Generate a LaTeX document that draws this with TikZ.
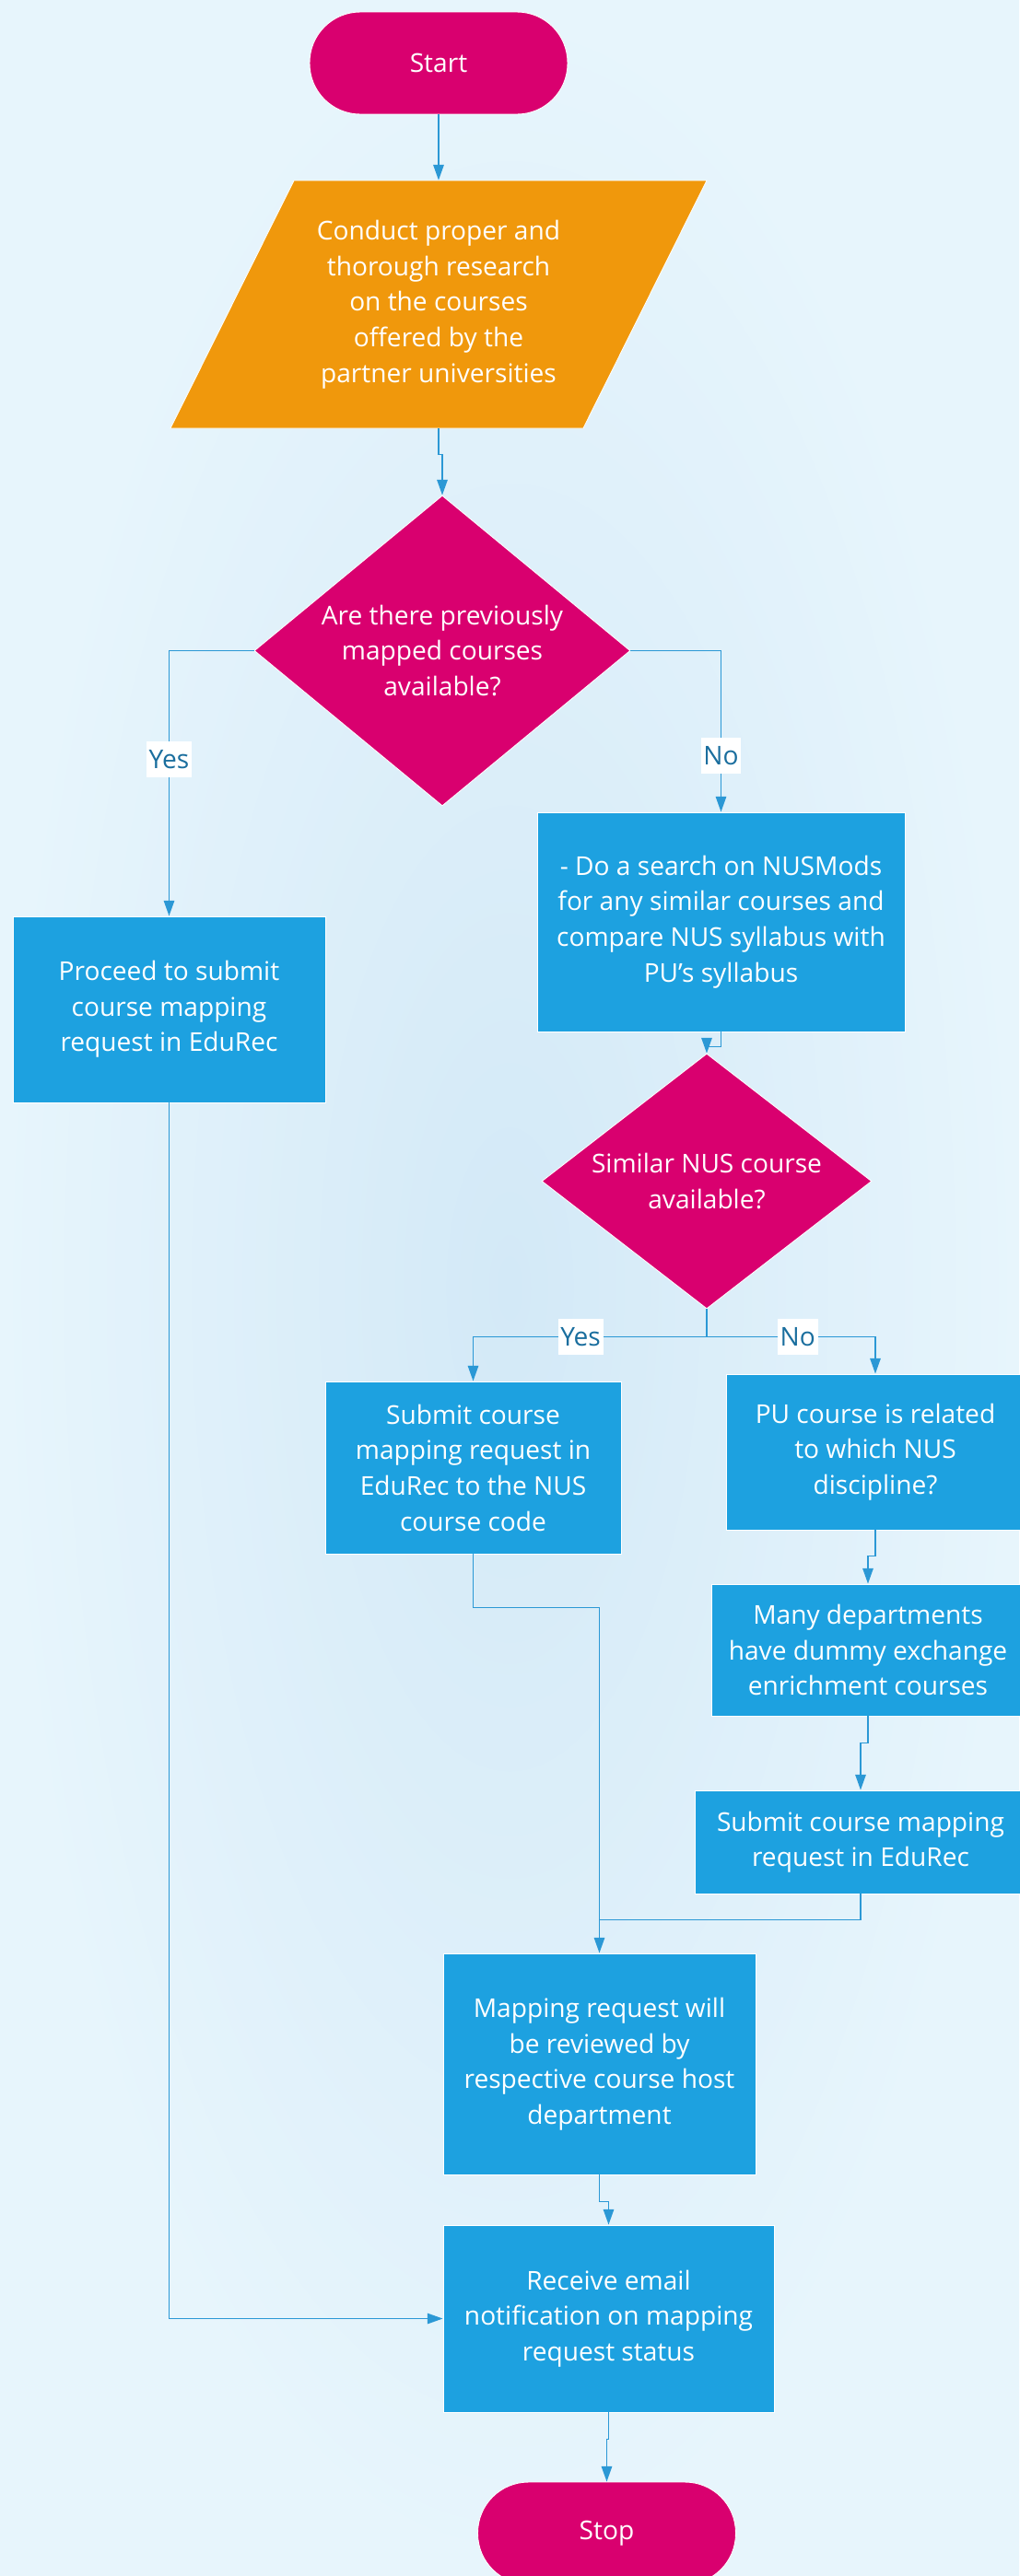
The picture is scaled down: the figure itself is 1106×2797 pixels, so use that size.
\documentclass[tikz,border=0pt]{standalone}
\usepackage{fontspec}
\setmainfont{Open Sans}
\usepackage{tikz}
\usetikzlibrary{
  arrows.meta,
  calc,
  shapes.geometric
}
\definecolor{flowpink}{RGB}{217,0,111}
\definecolor{floworange}{RGB}{240,152,12}
\definecolor{flowblue}{RGB}{29,161,224}
\definecolor{linkblue}{RGB}{43,152,213}
\definecolor{answerblue}{RGB}{26,110,158}
\definecolor{bginner}{RGB}{211,233,247}
\definecolor{bgouter}{RGB}{231,245,252}
\tikzset{
  base/.style={draw=white, line width=0.5pt, text=white, align=center, inner sep=0pt,
    font=\fontsize{16}{22}\selectfont},
  terminal/.style={base, fill=flowpink, rounded corners=1.1cm, minimum width=5.6cm, minimum height=2.22cm},
  process/.style 2 args={base, fill=flowblue, minimum width=#1*0.02cm, minimum height=#2*0.02cm},
  decision/.style 2 args={base, diamond, fill=flowpink, minimum width=#1*0.02cm, minimum height=#2*0.02cm},
  dtext/.style={text=white, align=center, inner sep=0pt, font=\fontsize{16}{22}\selectfont},
  link/.style={draw=linkblue, line width=0.9pt, -{Triangle[length=9.5pt,width=6.5pt]}},
  line/.style={draw=linkblue, line width=0.9pt},
  answer/.style={fill=white, text=answerblue, inner xsep=1.5pt, inner ysep=0pt, minimum height=22pt,
    font=\fontsize{16}{22}\selectfont}
}

\begin{document}
\begin{tikzpicture}[x=0.02cm, y=-0.02cm]
  % page and background
  \useasboundingbox (0,0) rectangle (1106,2797);
  \shade[inner color=bginner, outer color=bgouter] (0,0) rectangle (1106,2797);
  % research step (parallelogram)
  \fill[floworange, draw=white, line width=0.5pt] (319,196) -- (767,196) -- (633,465) -- (185,465) -- cycle;

  \node[terminal] (start) at (476,68.5) {Start};
  \node[dtext, minimum width=314*0.02cm, minimum height=269*0.02cm] (research) at (476,330.5)
    {Conduct proper and\\thorough research\\on the courses\\offered by the\\partner universities};
  \node[decision={408}{337}, label={[dtext]center:{Are there previously\\mapped courses\\available?}}] (dia1) at (480,706.5) {};
  \node[process={339}{202}] (proceed) at (183.5,1096) {Proceed to submit\\course mapping\\request in EduRec};
  \node[process={399}{238}] (nusmods) at (782.5,1001)
    {- Do a search on NUSMods\\for any similar courses and\\compare NUS syllabus with\\PU’s syllabus};
  \node[decision={358}{277}, label={[dtext]center:{Similar NUS course\\available?}}] (dia2) at (767,1282.5) {};
  \node[process={321}{187}] (submit1) at (513.5,1593.5) {Submit course\\mapping request in\\EduRec to the NUS\\course code};
  \node[process={324}{169}] (pu) at (950,1576.5) {PU course is related\\to which NUS\\discipline?};
  \node[process={340}{143}] (many) at (942,1791.5) {Many departments\\have dummy exchange\\enrichment courses};
  \node[process={360}{112}] (submit2) at (934,2000) {Submit course mapping\\request in EduRec};
  \node[process={339}{240}] (mapping) at (650.5,2241)
    {Mapping request will\\be reviewed by\\respective course host\\department};
  \node[process={359}{203}] (receive) at (660.5,2517.5) {Receive email\\notification on mapping\\request status};
  \node[terminal] (stop) at (658.5,2750.5) {Stop};

  % connectors
  \draw[link] (start.south) -- (research.north);
  \draw[link] (research.south) -- ++(0,28) -| (dia1.north);
  \draw[link] (dia1.west) -| node[answer, pos=0.705] {Yes} (proceed.north);
  \draw[link] (dia1.east) -| node[answer, pos=0.826] {No} (nusmods.north);
  \draw[link] (nusmods.south) -- ++(0,16) -| (dia2.north);
  \coordinate (split) at ($(dia2.south)+(0,30)$);
  \draw[line] (dia2.south) -- (split);
  \draw[link] (split) -| node[answer, pos=0.27] {Yes} (submit1.north);
  \draw[link] (split) -| node[answer, pos=0.27] {No} (pu.north);
  \draw[link] (pu.south) -- ++(0,28) -| (many.north);
  \draw[link] (many.south) -- ++(0,29) -| (submit2.north);
  \draw[link] (submit1.south) -- ++(0,58) -| (mapping.north);
  \draw[line] (submit2.south) |- ($(mapping.north)+(0,-36)$);
  \draw[link] (mapping.south) -- ++(0,29) -| (receive.north);
  \draw[link] (proceed.south) |- (receive.west);
  \draw[link] (receive.south) -- ++(0,29) -| (stop.north);
\end{tikzpicture}
\end{document}
